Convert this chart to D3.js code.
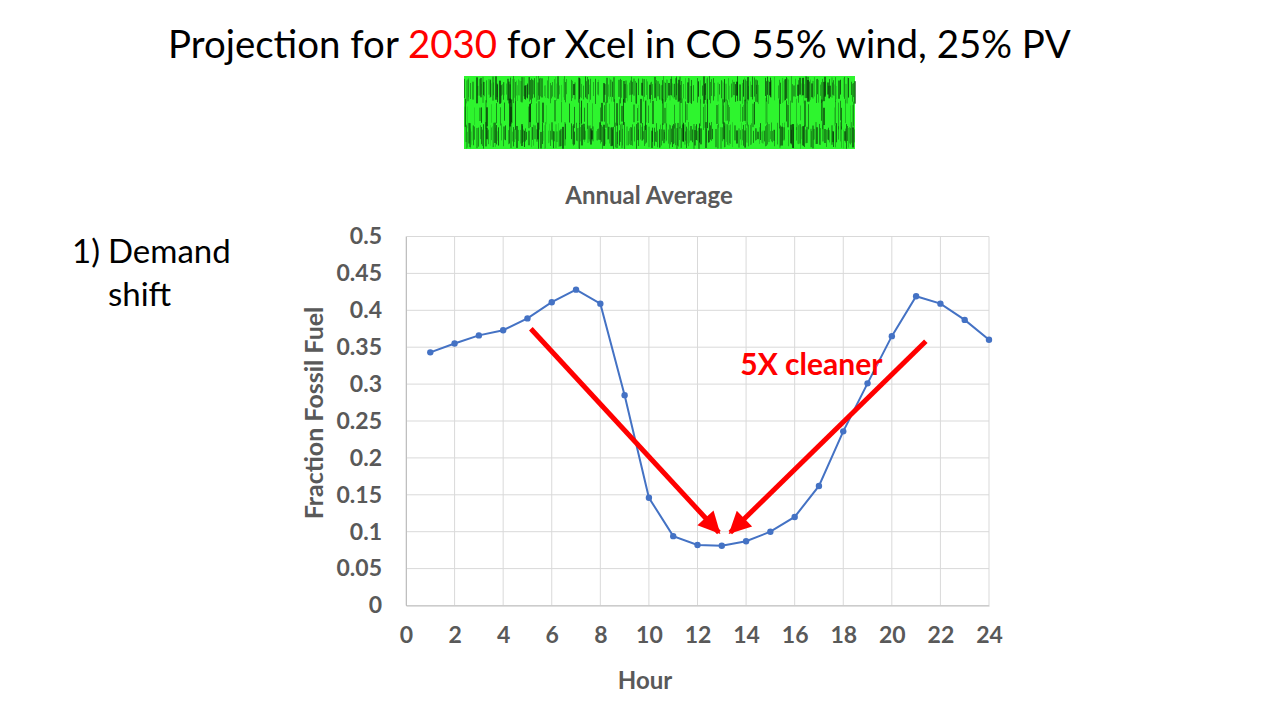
<!DOCTYPE html>
<html>
<head>
<meta charset="utf-8">
<script src="https://cdn.jsdelivr.net/npm/d3@7"></script>
<style>
  html, body { margin: 0; padding: 0; background: #fff; }
  svg { display: block; }
  text { font-family: Lato, "Open Sans", sans-serif; }
</style>
</head>
<body>
<svg id="chart" width="1280" height="720"></svg>
<script>
// ---- data ----
const hours = [1,2,3,4,5,6,7,8,9,10,11,12,13,14,15,16,17,18,19,20,21,22,23,24];
const fossilFraction = [0.343,0.355,0.366,0.373,0.389,0.411,0.428,0.409,0.285,0.146,0.094,0.082,0.081,0.087,0.100,0.120,0.162,0.236,0.301,0.365,0.419,0.409,0.387,0.360];
const xTicks = [0,2,4,6,8,10,12,14,16,18,20,22,24];
const yTicks = [0,0.05,0.1,0.15,0.2,0.25,0.3,0.35,0.4,0.45,0.5];
const yTickLabels = ["0","0.05","0.1","0.15","0.2","0.25","0.3","0.35","0.4","0.45","0.5"];
// annotation arrows in data units: [x1,y1,x2,y2]
const arrows = [[5.14,0.375,12.88,0.099],[21.4,0.358,13.35,0.099]];
const annotationText = "5X cleaner";
const annotationAt = [13.76, 0.312];

const svg = d3.select("#chart");

// ---- slide title ----
const title = svg.append("text").attr("x", 168).attr("y", 58)
  .attr("font-size", 36).attr("fill", "#000");
title.append("tspan").text("Projection for ");
title.append("tspan").attr("fill", "#ff0000").text("2030");
title.append("tspan").text(" for Xcel in CO 55% wind, 25% PV");
(function fit(){
  const w = title.node().getComputedTextLength();
  title.attr("font-size", 36 * 903 / w);
})();

// ---- green texture image (decorative) ----
const img = svg.append("g");
const ix = 464, iy = 76, iw = 391, ih = 73;
img.append("rect").attr("x", ix).attr("y", iy).attr("width", iw).attr("height", ih).attr("fill", "#2ef52e");
let seed = 987654;
function rnd(){ seed = (seed * 1103515245 + 12345) % 2147483648; return seed / 2147483648; }
const bands = [[0, 28, 0.7],[22, 54, 0.25],[46, 73, 0.72]];
bands.forEach(([b0, b1, dens]) => {
  for (let xx = 0; xx < iw; xx += 1) {
    if (rnd() < dens) {
      const op = 0.15 + rnd() * 0.6;
      const y0 = b0 + rnd() * 10;
      const y1 = b1 - rnd() * 10;
      if (y1 <= y0) continue;
      img.append("rect")
        .attr("x", ix + xx).attr("y", iy + Math.max(0, y0))
        .attr("width", rnd() < 0.3 ? 2 : 1)
        .attr("height", Math.min(ih, y1) - Math.max(0, y0))
        .attr("fill", rnd() < 0.5 ? "#062806" : "#0d4d0d").attr("opacity", op);
    }
  }
});

// ---- side text ----
svg.append("text").attr("x", 72).attr("y", 263).attr("font-size", 33).attr("fill", "#000").text("1)");
svg.append("text").attr("x", 108).attr("y", 263).attr("font-size", 33).attr("fill", "#000").text("Demand");
svg.append("text").attr("x", 108).attr("y", 306).attr("font-size", 33).attr("fill", "#000").text("shift");

// ---- chart ----
const plot = {left: 406, right: 989, top: 236.5, bottom: 605.5};
const x = d3.scaleLinear().domain([0, 24]).range([plot.left, plot.right]);
const y = d3.scaleLinear().domain([0, 0.5]).range([plot.bottom, plot.top]);
const gray = "#595959";

// gridlines
svg.append("g").selectAll("line.h").data(yTicks).join("line")
  .attr("x1", plot.left).attr("x2", plot.right)
  .attr("y1", d => y(d)).attr("y2", d => y(d))
  .attr("stroke", "#d9d9d9").attr("stroke-width", 1);
svg.append("g").selectAll("line.v").data(xTicks).join("line")
  .attr("x1", d => x(d)).attr("x2", d => x(d))
  .attr("y1", plot.top).attr("y2", plot.bottom)
  .attr("stroke", "#d9d9d9").attr("stroke-width", 1);

// axes
const xAxis = svg.append("g").attr("transform", `translate(0,${plot.bottom})`)
  .call(d3.axisBottom(x).tickValues(xTicks).tickSize(0).tickPadding(21).tickFormat(d3.format("d")));
xAxis.select(".domain").attr("stroke", "#bfbfbf");
xAxis.selectAll("text").attr("font-size", 23).attr("font-weight", "bold").attr("fill", gray)
  .attr("font-family", "Lato, sans-serif");

const yAxis = svg.append("g").attr("transform", `translate(${plot.left},0)`)
  .call(d3.axisLeft(y).tickValues(yTicks).tickSize(0).tickPadding(24).tickFormat((d, i) => yTickLabels[i]));
yAxis.select(".domain").attr("stroke", "#bfbfbf");
yAxis.selectAll("text").attr("font-size", 23).attr("font-weight", "bold").attr("fill", gray)
  .attr("font-family", "Lato, sans-serif");

// chart title & axis titles
svg.append("text").attr("x", 649).attr("y", 204).attr("text-anchor", "middle")
  .attr("font-size", 24).attr("font-weight", "bold").attr("fill", gray).text("Annual Average");
svg.append("text").attr("x", 645).attr("y", 689).attr("text-anchor", "middle")
  .attr("font-size", 24).attr("font-weight", "bold").attr("fill", gray).text("Hour");
svg.append("text").attr("transform", "translate(323,413) rotate(-90)").attr("text-anchor", "middle")
  .attr("font-size", 25).attr("font-weight", "bold").attr("fill", gray).text("Fraction Fossil Fuel");

// series line
const pts = hours.map((h, i) => [h, fossilFraction[i]]);
svg.append("path").datum(pts)
  .attr("d", d3.line().x(d => x(d[0])).y(d => y(d[1])))
  .attr("fill", "none").attr("stroke", "#4472c4").attr("stroke-width", 2);
svg.append("g").selectAll("circle").data(pts).join("circle")
  .attr("cx", d => x(d[0])).attr("cy", d => y(d[1])).attr("r", 3.2)
  .attr("fill", "#4472c4");

// arrows
const defs = svg.append("defs");
defs.append("marker").attr("id", "ah").attr("viewBox", "0 0 10 10")
  .attr("refX", 9).attr("refY", 5).attr("markerWidth", 4.8).attr("markerHeight", 4.4)
  .attr("markerUnits", "strokeWidth").attr("orient", "auto")
  .append("path").attr("d", "M0,0 L10,5 L0,10 z").attr("fill", "#ff0000");
svg.append("g").selectAll("line").data(arrows).join("line")
  .attr("x1", d => x(d[0])).attr("y1", d => y(d[1]))
  .attr("x2", d => x(d[2])).attr("y2", d => y(d[3]))
  .attr("stroke", "#ff0000").attr("stroke-width", 5)
  .attr("marker-end", "url(#ah)");

// annotation text
svg.append("text").attr("x", x(annotationAt[0])).attr("y", y(annotationAt[1]))
  .attr("font-size", 30).attr("font-weight", "bold").attr("fill", "#ff0000")
  .text(annotationText);
</script>
</body>
</html>
